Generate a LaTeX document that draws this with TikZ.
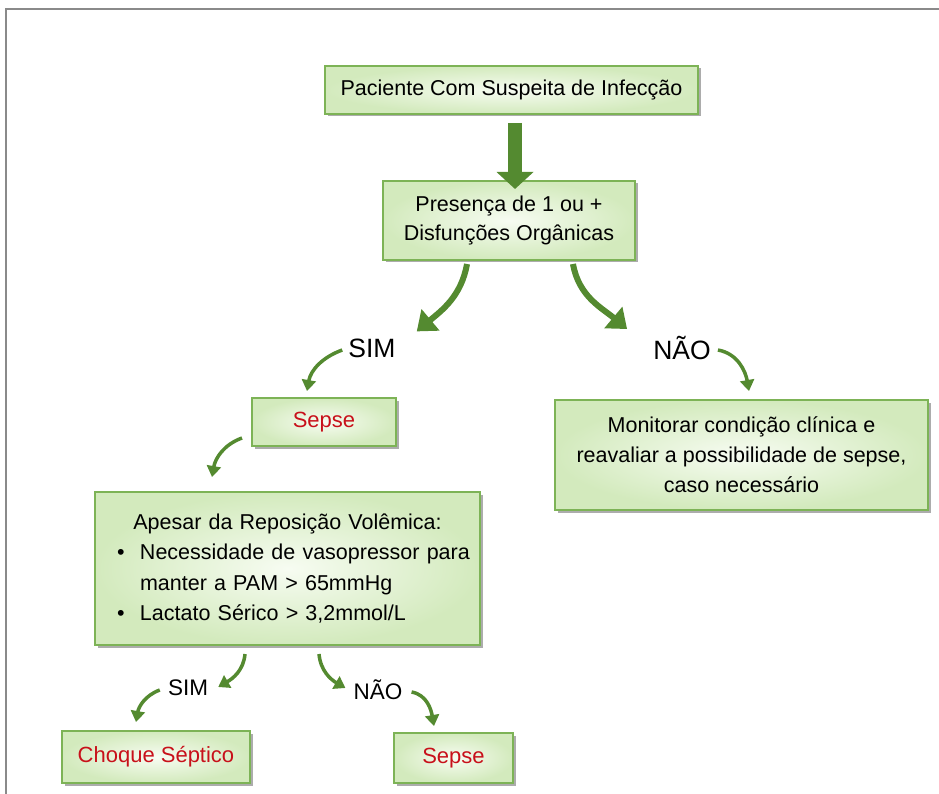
\documentclass[tikz,border=0pt]{standalone}
\usepackage{fontspec}
\setmainfont{Liberation Sans}
\usetikzlibrary{arrows.meta,calc,shadows}
\definecolor{arrowgreen}{HTML}{548A30}
\definecolor{boxline}{HTML}{7DB356}
\definecolor{boxin}{HTML}{F7FCF2}
\definecolor{boxout}{HTML}{D3EABD}
\definecolor{sepred}{HTML}{C8101A}
\definecolor{framegray}{HTML}{8A8A8A}
\tikzset{
 box/.style={draw=boxline, line width=2pt, inner color=boxin, outer color=boxout,
   drop shadow={shadow xshift=2.5pt, shadow yshift=-2.5pt, fill=black!65},
   align=center, inner sep=4pt, font=\fontsize{21.5}{29}\selectfont},
 redtxt/.style={text=sepred, font=\fontsize{22}{26}\selectfont},
 biglbl/.style={font=\fontsize{26.5}{30}\selectfont, inner sep=1pt},
 smalllbl/.style={font=\fontsize{22.5}{26}\selectfont, inner sep=1pt},
 bigcurve/.style={draw=arrowgreen, line width=6pt, -{Triangle[length=18pt,width=27pt]}},
 smallcurve/.style={draw=arrowgreen, line width=3.5pt, -{Triangle[length=11pt,width=14pt]}},
 blockarrow/.style={draw=arrowgreen, line width=14pt, -{Triangle[length=17pt,width=36pt]}},
}
\begin{document}
\begin{tikzpicture}[x=1pt,y=1pt]
\useasboundingbox (0,0) rectangle (939,-794);
\draw[framegray, line width=2pt] (939,-9) -- (6,-9) -- (6,-794);

% boxes
\node[box, minimum width=373pt, minimum height=48pt] (p1) at (511.5,-90) {Paciente Com Suspeita de Infecção};
\node[box, minimum width=252pt, minimum height=79pt] (pres) at (509,-220.5) {Presença de 1 ou +\\Disfunções Orgânicas};
\node[box, minimum width=144pt, minimum height=48pt, redtxt] (sepse1) at (324,-422) {Sepse};
\node[box, minimum width=373pt, minimum height=110pt, font=\fontsize{21.5}{30}\selectfont] (mon) at (741.5,-455) {Monitorar condição clínica e\\reavaliar a possibilidade de sepse,\\caso necessário};
\node[box, minimum width=385pt, minimum height=153pt, text width=365pt, align=left, inner xsep=10pt, font=\fontsize{21.5}{30.5}\selectfont] (ap) at (287.5,-568.5)
 {\makebox[365pt][c]{Apesar da Reposição Volêmica:}\\
  \hspace*{12pt}\makebox[23pt][l]{\textbullet}Necessidade de vasopressor para\\
  \hspace*{35pt}manter a PAM > 65mmHg\\
  \hspace*{12pt}\makebox[23pt][l]{\textbullet}Lactato Sérico > 3,2mmol/L};
\node[box, minimum width=188pt, minimum height=52pt, redtxt] (choque) at (156,-757) {Choque Séptico};
\node[box, minimum width=119pt, minimum height=50pt, redtxt] (sepse2) at (453.5,-758) {Sepse};

% labels
\node[biglbl] (sim1) at (372,-348) {SIM};
\node[biglbl] (nao1) at (682,-348) {NÃO};
\node[smalllbl] (sim2) at (188,-688) {SIM};
\node[smalllbl] (nao2) at (378,-690) {NÃO};

% arrows
\draw[blockarrow] ($(p1.south)+(3.5,-8)$) -- ($(pres.north)+(6,-9)$);

\coordinate (t1) at ($(sim1.north east)+(20,6)$);
\coordinate (t2) at ($(nao1.north west)+(-25,6)$);
\draw[bigcurve] ($(pres.south)+(-42,-3)$) to[out=-100,in=40] (t1);
\draw[bigcurve] ($(pres.south)+(64,-3)$) to[out=-80,in=140] (t2);

\draw[smallcurve] ($(sim1.west)+(-5,-2)$) to[out=200,in=80] ($(sepse1.north west)+(56,6)$);
\draw[smallcurve] ($(nao1.east)+(6,-2)$) to[out=-10,in=100] ($(mon.north west)+(195,8)$);
\draw[smallcurve] ($(sepse1.south west)+(-9,9)$) to[out=200,in=80] ($(ap.north west)+(118,14)$);

\draw[smallcurve] ($(ap.south west)+(151,-8)$) to[out=-95,in=30] ($(sim2.east)+(9,1)$);
\draw[smallcurve] ($(sim2.west)+(-7,-2)$) to[out=200,in=80] ($(choque.north west)+(75,8)$);
\draw[smallcurve] ($(ap.south west)+(225,-8)$) to[out=-85,in=150] ($(nao2.west)+(-7,2)$);
\draw[smallcurve] ($(nao2.east)+(8,-2)$) to[out=-10,in=100] ($(sepse2.north west)+(41,6)$);
\end{tikzpicture}
\end{document}
